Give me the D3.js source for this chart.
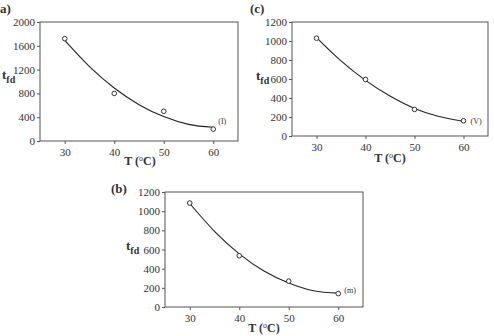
<!DOCTYPE html>
<html>
<head>
<meta charset="utf-8">
<script src="https://cdn.jsdelivr.net/npm/d3@7"></script>
<style>
  body { margin: 0; background: #fff; }
  svg text { font-family: "Liberation Serif", "DejaVu Serif", serif; fill: #333; }
</style>
</head>
<body>
<svg id="chart" width="494" height="336"></svg>
<script>
// ---------------------------------------------------------------------------
// Data

const tempC = [30, 40, 50, 60];
const xTicks = [30, 40, 50, 60];

// measured t_fd
const tfdA = [1720, 800, 500, 200];
const tfdB = [1085, 535, 270, 140];
const tfdC = [1030, 595, 280, 160];

// fitted curve, sampled every 5 degrees
const curveT = [30, 35, 40, 45, 50, 55, 60];
const curveA = [1690, 1250, 890, 610, 410, 280, 230];
const curveB = [1080, 790, 555, 375, 250, 170, 145];
const curveC = [1035, 790, 585, 420, 290, 205, 155];

const yTicksA = [0, 400, 800, 1200, 1600, 2000];
const yTicksBC = [0, 200, 400, 600, 800, 1000, 1200];

// ---------------------------------------------------------------------------
// Panels

const svg = d3.select('#chart');

const panels = [
  { label: 'a)', labelX: 0, labelY: 13, x0: 40, x1: 238, y0: 22, y1: 141,
    yMax: 2000, yTicks: yTicksA, points: tfdA, curve: curveA, note: '(I)', noteDx: 5, noteDy: -5,
    tfdX: 2, tfdY: 79, tX: 140, tY: 165 },
  { label: '(c)', labelX: 250, labelY: 13, x0: 292, x1: 488, y0: 22, y1: 136,
    yMax: 1200, yTicks: yTicksBC, points: tfdC, curve: curveC, note: '(V)', noteDx: 7, noteDy: 3,
    tfdX: 256, tfdY: 80, tX: 390, tY: 162 },
  { label: '(b)', labelX: 111, labelY: 193, x0: 165, x1: 363, y0: 192, y1: 307,
    yMax: 1200, yTicks: yTicksBC, points: tfdB, curve: curveB, note: '(m)', noteDx: 6, noteDy: -1,
    tfdX: 126, tfdY: 250, tX: 264, tY: 332 }
];

panels.forEach(p => drawPanel(p));

function drawPanel(p) {
  const x = d3.scaleLinear().domain([25, 65]).range([p.x0, p.x1]);
  const y = d3.scaleLinear().domain([0, p.yMax]).range([p.y1, p.y0]);
  const g = svg.append('g');

  // frame
  g.append('rect')
    .attr('x', p.x0).attr('y', p.y0)
    .attr('width', p.x1 - p.x0).attr('height', p.y1 - p.y0)
    .attr('fill', 'none').attr('stroke', '#555').attr('stroke-width', 1);

  // axes
  const xAxis = g.append('g')
    .attr('transform', `translate(0,${p.y1})`)
    .call(d3.axisBottom(x).tickValues(xTicks).tickSize(3).tickPadding(4).tickFormat(d3.format('d')));
  const yAxis = g.append('g')
    .attr('transform', `translate(${p.x0},0)`)
    .call(d3.axisLeft(y).tickValues(p.yTicks).tickSize(3).tickPadding(2).tickFormat(d3.format('d')));
  [xAxis, yAxis].forEach(a => {
    a.select('.domain').remove();
    a.selectAll('line').attr('stroke', '#555');
    a.selectAll('text')
      .style('font-family', '"Liberation Serif", serif')
      .style('font-size', '11px')
      .attr('fill', '#333');
  });

  // fitted curve
  const line = d3.line()
    .x((d, i) => x(curveT[i]))
    .y(d => y(d))
    .curve(d3.curveMonotoneX);
  g.append('path')
    .datum(p.curve)
    .attr('d', line)
    .attr('fill', 'none')
    .attr('stroke', '#222')
    .attr('stroke-width', 1.1);

  // measured points
  g.selectAll('circle')
    .data(p.points)
    .enter()
    .append('circle')
    .attr('cx', (d, i) => x(tempC[i]))
    .attr('cy', d => y(d))
    .attr('r', 2.3)
    .attr('fill', '#fff')
    .attr('stroke', '#333')
    .attr('stroke-width', 1);

  // series note next to last point
  g.append('text')
    .attr('x', x(tempC[3]) + p.noteDx)
    .attr('y', y(p.points[3]) + p.noteDy)
    .style('font-size', '8px')
    .text(p.note);

  // panel label
  g.append('text')
    .attr('x', p.labelX).attr('y', p.labelY)
    .style('font-size', '13px').style('font-weight', 'bold')
    .text(p.label);

  // y title t_fd
  const ty = g.append('text')
    .attr('x', p.tfdX).attr('y', p.tfdY)
    .style('font-size', '13px').style('font-weight', 'bold');
  ty.append('tspan').text('t');
  ty.append('tspan').attr('dy', 4).style('font-size', '10px').text('fd');

  // x title T (°C)
  const tx = g.append('text')
    .attr('x', p.tX).attr('y', p.tY)
    .attr('text-anchor', 'middle')
    .style('font-size', '12px').style('font-weight', 'bold');
  tx.append('tspan').text('T (');
  tx.append('tspan').attr('dy', -4).style('font-size', '8px').style('font-weight', 'normal').text('o');
  tx.append('tspan').attr('dy', 4).text('C)');
}
</script>
</body>
</html>
